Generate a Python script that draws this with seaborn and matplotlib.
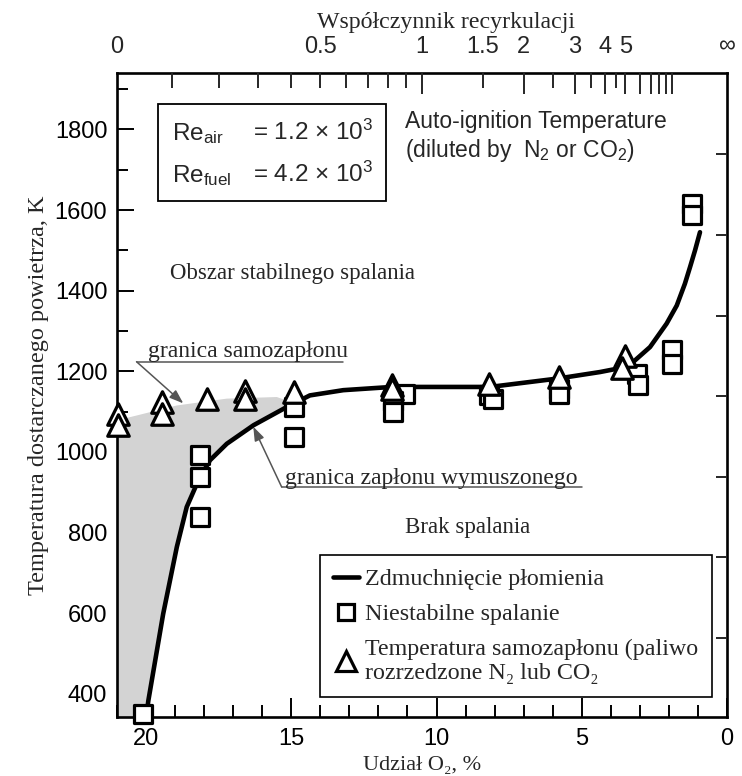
import matplotlib
matplotlib.use("Agg")
import matplotlib.pyplot as plt
from matplotlib.lines import Line2D
from matplotlib.patches import Rectangle
from matplotlib.ticker import FixedLocator, FixedFormatter, MultipleLocator, NullFormatter
import seaborn as sns

# Blow-out limit of the flame: O2 share [%] vs supplied air temperature [K]
blowout_o2 = [19.98, 19.92, 19.41, 18.94, 18.6, 18.2, 17.8, 17.22, 16.3, 15.16,
              14.36, 13.21, 11.54, 8.16, 5.81, 4.37, 3.8, 3.23, 2.65, 2.08,
              1.73, 1.45, 1.27, 1.1, 0.93]
blowout_temp = [350, 383, 598, 764, 863, 929, 979, 1020, 1066, 1111,
                1140, 1153, 1161, 1161, 1182, 1198, 1206, 1223, 1260, 1318,
                1363, 1417, 1459, 1500, 1545]

# Unstable combustion
unstable_o2 = [20.1, 18.15, 18.15, 18.15, 14.9, 14.9, 11.1, 11.5, 11.5,
               8.2, 8.05, 5.8, 5.8, 3.1, 3.05, 1.9, 1.9, 1.2, 1.2]
unstable_temp = [350, 991, 937, 838, 1111, 1037, 1144, 1125, 1099,
                 1140, 1132, 1157, 1144, 1194, 1165, 1252, 1219, 1616, 1587]

# Auto-ignition temperature (fuel diluted with N2 or CO2)
autoign_o2 = [20.95, 20.95, 19.45, 19.45, 17.9, 16.6, 16.6, 14.9,
              11.55, 11.55, 8.2, 5.8, 3.5, 3.6]
autoign_temp = [1095, 1066, 1124, 1095, 1132, 1150, 1132, 1148,
                1165, 1155, 1169, 1186, 1237, 1207]

# Upper edge of the stable-combustion (shaded) region
stable_top_o2 = [21.0, 18.94, 17.22, 15.5]
stable_top_temp = [1078, 1115, 1132, 1136]

# Recirculation ratio scale on the top axis
recirc_labels = ["0", "0.5", "1", "1.5", "2", "3", "4", "5", "\u221e"]
recirc_label_values = [0, 0.5, 1, 1.5, 2, 3, 4, 5, float("inf")]
recirc_long_ticks = [1, 2, 3, 4, 5, 6, 7, 8, 9, 10]
recirc_short_ticks = [0.1, 0.2, 0.3, 0.4, 0.5, 0.6, 0.7, 0.8, 0.9, 1.5, 2.5, 3.5, 4.5]

# tick marks on the right-hand frame edge
right_ticks = [538, 738, 938, 1138, 1338, 1538, 1738]

O2_AIR = 21.0
XLIM = (21.0, 0.0)
YLIM = (342, 1940)


def recirc_to_o2(r):
    return 0.0 if r == float("inf") else O2_AIR / (1.0 + r)


sns.set_theme(style="white")
plt.rcParams["font.family"] = ["Liberation Sans", "DejaVu Sans"]
plt.rcParams["mathtext.fontset"] = "custom"
plt.rcParams["mathtext.rm"] = "Liberation Sans"
plt.rcParams["mathtext.it"] = "Liberation Sans:italic"
plt.rcParams["mathtext.bf"] = "Liberation Sans:bold"
SERIF = ["Liberation Serif", "DejaVu Serif"]

W, H = 742, 776
fig = plt.figure(figsize=(W / 100, H / 100), dpi=100)
ax = fig.add_axes([117 / W, 1 - 717 / H, 610 / W, 644 / H])
ax.set_xlim(*XLIM)
ax.set_ylim(*YLIM)

# shaded stable-combustion region: top edge, then the blow-out curve back down
curve_part = [(o, t) for o, t in zip(blowout_o2, blowout_temp) if o >= 15.0]
poly_x = stable_top_o2 + [14.95] + [o for o, _ in curve_part][::-1] + [blowout_o2[0], O2_AIR]
poly_y = stable_top_temp + [1122] + [t for _, t in curve_part][::-1] + [YLIM[0], YLIM[0]]
ax.fill(poly_x, poly_y, color="#d3d3d3", lw=0, zorder=1)

sns.lineplot(x=blowout_o2, y=blowout_temp, ax=ax, color="black", lw=3.3,
             sort=False, zorder=3, solid_capstyle="round", solid_joinstyle="round")
sns.scatterplot(x=unstable_o2, y=unstable_temp, ax=ax, marker="s", s=150,
                color="white", edgecolor="black", linewidth=2.3, zorder=4,
                clip_on=False)
sns.scatterplot(x=autoign_o2, y=autoign_temp, ax=ax, marker="^", s=240,
                color="white", edgecolor="black", linewidth=2.3, zorder=5,
                clip_on=False)

# spines and ticks
for sp in ax.spines.values():
    sp.set_linewidth(1.9)
    sp.set_color("black")
ax.set_yticks(range(400, 1900, 200))
ax.yaxis.set_minor_locator(MultipleLocator(100))
ax.xaxis.set_major_locator(FixedLocator([20, 15, 10, 5, 0]))
ax.xaxis.set_minor_locator(MultipleLocator(1))
ax.tick_params(axis="both", which="both", direction="in", color="black",
               width=1.4, top=False, right=False, labelsize=17, labelcolor="black")
ax.tick_params(axis="y", which="major", length=12, pad=7)
ax.tick_params(axis="y", which="minor", length=8)
ax.tick_params(axis="x", which="major", length=14, pad=8)
ax.tick_params(axis="x", which="minor", length=9)

ax.set_xlabel("Udzia\u0142 O\u2082, %", family=SERIF, fontsize=16, labelpad=4)
ax.set_ylabel("Temperatura dostarczanego powietrza, K", family=SERIF,
              fontsize=17.5, labelpad=4)

# right frame edge ticks
ax_r = ax.twinx()
ax_r.set_ylim(*YLIM)
ax_r.yaxis.set_major_locator(FixedLocator(right_ticks))
ax_r.yaxis.set_major_formatter(NullFormatter())
ax_r.tick_params(axis="y", which="major", direction="in", length=8, width=1.4,
                 left=False, right=True)
for sp in ax_r.spines.values():
    sp.set_visible(False)

# top axis: recirculation ratio (tick marks)
ax_t = ax.twiny()
ax_t.set_xlim(*XLIM)
ax_t.xaxis.set_major_locator(FixedLocator([recirc_to_o2(r) for r in recirc_long_ticks]))
ax_t.xaxis.set_minor_locator(FixedLocator([recirc_to_o2(r) for r in recirc_short_ticks]))
ax_t.xaxis.set_major_formatter(NullFormatter())
ax_t.tick_params(axis="x", which="major", direction="in", length=15, width=1.4)
ax_t.tick_params(axis="x", which="minor", direction="in", length=11, width=1.4)
ax_t.tick_params(axis="y", left=False, right=False, labelleft=False, labelright=False)
for sp in ax_t.spines.values():
    sp.set_visible(False)

# top axis: recirculation ratio (labels)
ax_l = ax.twiny()
ax_l.set_xlim(*XLIM)
ax_l.xaxis.set_major_locator(FixedLocator([recirc_to_o2(r) for r in recirc_label_values]))
ax_l.xaxis.set_major_formatter(FixedFormatter(recirc_labels))
ax_l.tick_params(axis="x", which="major", length=0, pad=11, labelsize=17)
ax_l.tick_params(axis="y", left=False, right=False, labelleft=False, labelright=False)
for sp in ax_l.spines.values():
    sp.set_visible(False)
ax_l.set_xlabel("Wsp\u00f3\u0142czynnik recyrkulacji", family=SERIF, fontsize=17.2)
ax_l.xaxis.set_label_coords(0.54, 1.07)

# Reynolds number box
ax.add_patch(Rectangle((0.067, 0.801), 0.374, 0.151, transform=ax.transAxes,
                       fill=False, edgecolor="black", lw=1.3, zorder=6))
ax.text(0.090, 0.896, r"Re$_{\mathrm{air}}$", transform=ax.transAxes, fontsize=17.5,
        va="baseline", ha="left")
ax.text(0.223, 0.896, "= 1.2 \u00d7 10$^3$", transform=ax.transAxes, fontsize=17.5,
        va="baseline", ha="left")
ax.text(0.090, 0.831, r"Re$_{\mathrm{fuel}}$", transform=ax.transAxes, fontsize=17.5,
        va="baseline", ha="left")
ax.text(0.223, 0.831, "= 4.2 \u00d7 10$^3$", transform=ax.transAxes, fontsize=17.5,
        va="baseline", ha="left")

ax.text(0.472, 0.924, "Auto-ignition Temperature", transform=ax.transAxes,
        fontsize=16.5, va="center", ha="left")
ax.text(0.472, 0.880, "(diluted by  N$_2$ or CO$_2$)", transform=ax.transAxes,
        fontsize=16.5, va="center", ha="left")

ax.text(0.087, 0.689, "Obszar stabilnego spalania", transform=ax.transAxes,
        family=SERIF, fontsize=16.5, va="center", ha="left")
ax.text(0.472, 0.295, "Brak spalania", transform=ax.transAxes,
        family=SERIF, fontsize=16.5, va="center", ha="left")

# boundary callouts
arrow_kw = dict(arrowstyle="-|>,head_length=0.7,head_width=0.25", color="#555555",
                lw=1.1, shrinkA=0, shrinkB=0)
ax.text(0.051, 0.567, "granica samozap\u0142onu", transform=ax.transAxes,
        family=SERIF, fontsize=17, va="center", ha="left")
ax.plot([0.032, 0.3705], [0.5517, 0.5517], transform=ax.transAxes,
        color="#555555", lw=1.1)
ax.annotate("", xy=(0.1087, 0.487), xytext=(0.032, 0.5517),
            xycoords="axes fraction", textcoords="axes fraction", arrowprops=arrow_kw)

ax.text(0.275, 0.371, "granica zap\u0142onu wymuszonego", transform=ax.transAxes,
        family=SERIF, fontsize=17, va="center", ha="left")
ax.plot([0.270, 0.762], [0.357, 0.357], transform=ax.transAxes,
        color="#555555", lw=1.1)
ax.annotate("", xy=(0.2234, 0.4508), xytext=(0.270, 0.357),
            xycoords="axes fraction", textcoords="axes fraction", arrowprops=arrow_kw)

# legend
handles = [
    Line2D([], [], color="black", lw=3.3),
    Line2D([], [], ls="none", marker="s", ms=12, mfc="white", mec="black", mew=2.3),
    Line2D([], [], ls="none", marker="^", ms=15, mfc="white", mec="black", mew=2.3),
]
labels = [
    "Zdmuchni\u0119cie p\u0142omienia",
    "Niestabilne spalanie",
    "Temperatura samozap\u0142onu (paliwo\nrozrzedzone N\u2082 lub CO\u2082",
]
leg = ax.legend(handles, labels, loc="lower right", bbox_to_anchor=(0.975, 0.031),
                prop={"family": SERIF, "size": 17.3}, frameon=True, fancybox=False,
                framealpha=1, edgecolor="black", handlelength=1.1, handletextpad=0.25,
                labelspacing=0.55, borderpad=0.55, borderaxespad=0)
leg.get_frame().set_linewidth(1.2)
leg.set_zorder(7)

fig.savefig("out.png", dpi=100)
